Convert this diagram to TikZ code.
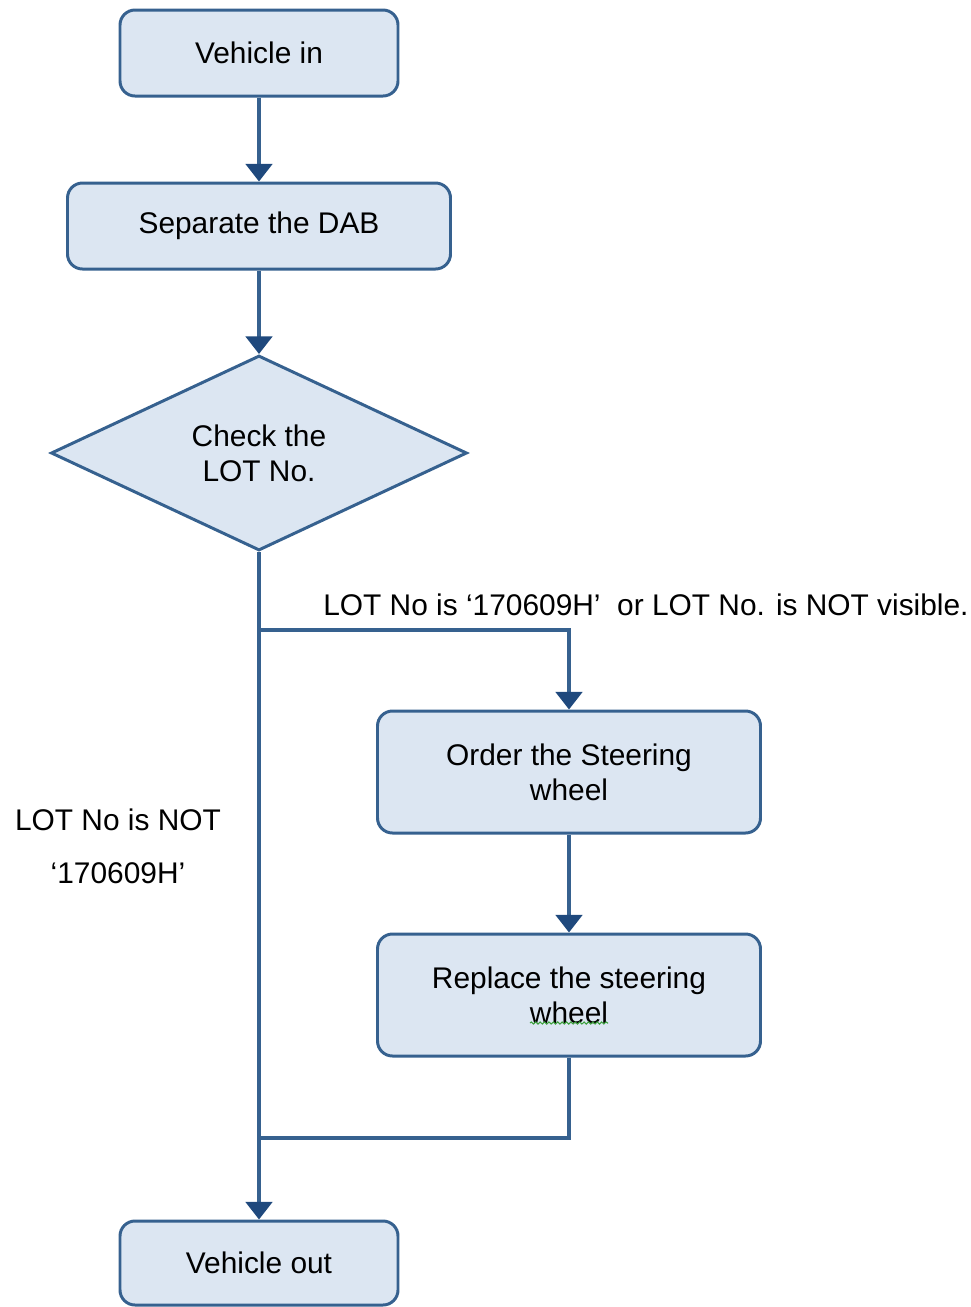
\documentclass[tikz,border=0pt]{standalone}
\usepackage{fontspec}
\setmainfont{Liberation Sans}
\usetikzlibrary{positioning,shapes.geometric,arrows.meta,decorations.pathmorphing}
\definecolor{boxfill}{HTML}{DCE6F2}
\definecolor{boxline}{HTML}{36618F}
\definecolor{tipblue}{HTML}{1F497D}
\definecolor{spellgreen}{HTML}{3CA03C}
\newcommand{\flowfont}{\fontsize{17}{20}\selectfont}
\tikzset{
  process/.style={draw=boxline, fill=boxfill, line width=1.7pt, rounded corners=0.3cm,
    align=center, inner sep=0pt, font=\flowfont},
  decision/.style={diamond, draw=boxline, fill=boxfill, line width=1.7pt, aspect=2.13,
    minimum width=8.32cm, minimum height=3.9cm, align=center, inner sep=0pt, font=\flowfont},
  lbl/.style={font=\flowfont, inner sep=0pt},
  flow/.style={draw=boxline, line width=2pt}
}

\begin{document}
\begin{tikzpicture}[node distance=3.46cm, on grid, auto,
    >={Triangle[width=15pt,length=10pt,color=tipblue]}]
	\useasboundingbox (0,0) rectangle (19.42,-26.14);
	\node[process, minimum width=5.56cm, minimum height=1.72cm] (vin) at (5.18,-1.06) {Vehicle in};
	\node[process, minimum width=7.66cm, minimum height=1.72cm] (dab) [below=of vin] {Separate the DAB};
	\node[decision] (chk) [below=4.54cm of dab] {Check the\\LOT No.};
	\node[process, minimum width=7.66cm, minimum height=2.44cm] (order) [below right=6.38cm and 6.2cm of chk] {Order the Steering\\wheel};
	\node[process, minimum width=7.66cm, minimum height=2.44cm] (repl) [below=4.46cm of order] {Replace the steering\\wheel};
	\node[process, minimum width=5.56cm, minimum height=1.68cm] (vout) [below=16.2cm of chk] {Vehicle out};
	\coordinate[below=3.54cm of chk] (split);
	\coordinate[below=13.7cm of chk] (merge);
	
	\node[lbl] (yes) [above right=0.5cm and 1.28cm of split, anchor=west] {LOT No is ‘170609H’\ \ or LOT No. is NOT visible.};
	\node[lbl, align=center] (no) [below left=4.32cm and 2.82cm of split, anchor=center] {LOT No is NOT\\[10pt]‘170609H’};
	
	\path[->] 
	(vin) edge[flow] (dab)
	(dab) edge[flow] (chk)
	(chk) edge[flow] (vout)
	(order) edge[flow] (repl);
	\draw[flow, ->] (split) -| (order);
	\draw[flow] (repl) |- (merge);
	
	\draw[spellgreen, line width=0.6pt, decorate, decoration={snake, amplitude=0.6pt, segment length=2.5pt}]
	([xshift=-0.78cm, yshift=-0.56cm]repl.center) -- ([xshift=0.78cm, yshift=-0.56cm]repl.center);
\end{tikzpicture}
\end{document}
